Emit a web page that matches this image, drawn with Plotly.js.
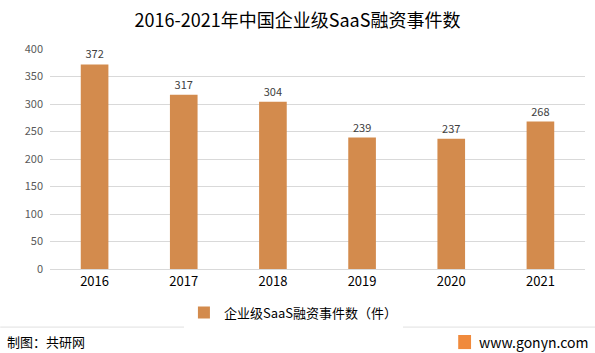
<!DOCTYPE html>
<html><head><meta charset="utf-8">
<script src="https://cdn.plot.ly/plotly-3.0.1.min.js"></script>
<style>html,body{margin:0;padding:0;background:#fff}#c{width:595px;height:353px}</style>
</head><body><div id="c"></div>
<script>
const years = ['2016','2017','2018','2019','2020','2021'];
const counts = [372, 317, 304, 239, 237, 268];
const seriesName = '企业级SaaS融资事件数（件）';
const titleText = '2016-2021年中国企业级SaaS融资事件数';
const font = '"Noto Sans CJK SC", "Noto Sans", sans-serif';

const trace = {
  type: 'bar', x: years, y: counts, name: seriesName,
  marker: {color: '#D38B4D'},
  text: counts.map(String), textposition: 'outside',
  textfont: {size: 11, color: '#404040', family: font},
  cliponaxis: false, width: 0.31
};
const layout = {
  width: 595, height: 353,
  margin: {l: 50, r: 10, t: 49, b: 84},
  paper_bgcolor: '#fff', plot_bgcolor: '#fff',
  font: {family: font},
  title: {text: titleText, font: {size: 18, color: '#000', family: font}, x: 0.5, xanchor: 'center', y: 0.94, yanchor: 'middle'},
  xaxis: {type: 'category', tickfont: {size: 13, color: '#000'}, showline: true, linecolor: '#d9d9d9', ticks: '', showgrid: false},
  yaxis: {range: [0, 400], dtick: 50, tickfont: {size: 11, color: '#595959'}, gridcolor: '#d9d9d9', zeroline: false, ticks: '', ticklabelstandoff: 6},
  showlegend: true,
  legend: {orientation: 'h', x: 0.455, xanchor: 'center', y: -0.13, yanchor: 'top', itemwidth: 30, font: {size: 13, color: '#000'}},
  shapes: [
    {type: 'line', xref: 'paper', yref: 'paper', x0: -0.093, x1: 1.02, y0: -0.264, y1: -0.264, line: {color: '#e0e0e0', width: 1}},
    {type: 'rect', xref: 'paper', yref: 'paper', x0: 0.763, x1: 0.787, y0: -0.364, y1: -0.30, fillcolor: '#F08A3C', line: {width: 0}}
  ],
  annotations: [
    {text: '制图：共研网', xref: 'paper', yref: 'paper', x: -0.085, y: -0.33, xanchor: 'left', yanchor: 'middle', showarrow: false, font: {size: 13, color: '#000'}},
    {text: 'www.gonyn.com', xref: 'paper', yref: 'paper', x: 1.01, y: -0.33, xanchor: 'right', yanchor: 'middle', showarrow: false, font: {size: 14, color: '#000'}}
  ]
};
Plotly.newPlot('c', [trace], layout, {displayModeBar: false, staticPlot: true});
</script></body></html>
